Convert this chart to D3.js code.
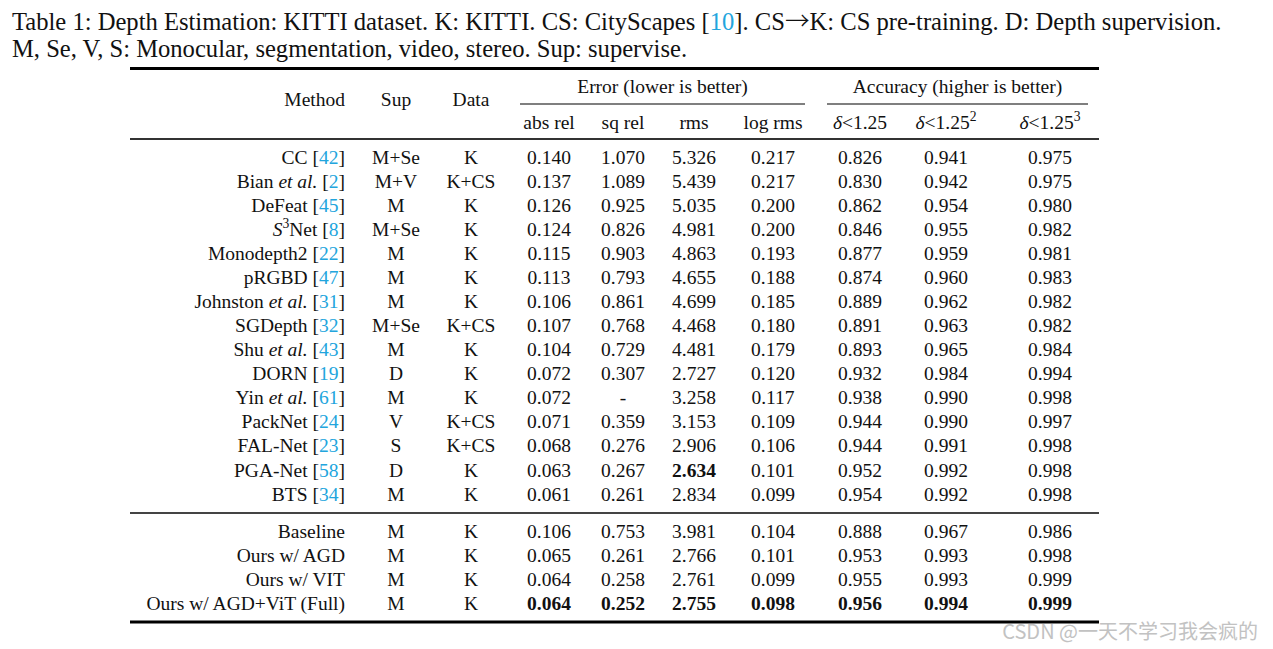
<!DOCTYPE html>
<html><head><meta charset="utf-8">
<script src="https://cdn.jsdelivr.net/npm/d3@7"></script>
<style>body{margin:0;background:#fff;} svg{display:block;}</style>
</head><body>
<script>
// ---------------- data ----------------
const methods = ["CC","Bian et al.","DeFeat","S3Net","Monodepth2","pRGBD","Johnston et al.","SGDepth","Shu et al.","DORN","Yin et al.","PackNet","FAL-Net","PGA-Net","BTS",
                 "Baseline","Ours w/ AGD","Ours w/ VIT","Ours w/ AGD+ViT (Full)"];
const refs    = [42,2,45,8,22,47,31,32,43,19,61,24,23,58,34,null,null,null,null];
const sup     = ["M+Se","M+V","M","M+Se","M","M","M","M+Se","M","D","M","V","S","D","M","M","M","M","M"];
const dataSet = ["K","K+CS","K","K","K","K","K","K+CS","K","K","K","K+CS","K+CS","K","K","K","K","K","K"];
const absRel  = [0.140,0.137,0.126,0.124,0.115,0.113,0.106,0.107,0.104,0.072,0.072,0.071,0.068,0.063,0.061,0.106,0.065,0.064,0.064];
const sqRel   = [1.070,1.089,0.925,0.826,0.903,0.793,0.861,0.768,0.729,0.307,null,0.359,0.276,0.267,0.261,0.753,0.261,0.258,0.252];
const rms     = [5.326,5.439,5.035,4.981,4.863,4.655,4.699,4.468,4.481,2.727,3.258,3.153,2.906,2.634,2.834,3.981,2.766,2.761,2.755];
const logRms  = [0.217,0.217,0.200,0.200,0.193,0.188,0.185,0.180,0.179,0.120,0.117,0.109,0.106,0.101,0.099,0.104,0.101,0.099,0.098];
const d1      = [0.826,0.830,0.862,0.846,0.877,0.874,0.889,0.891,0.893,0.932,0.938,0.944,0.944,0.952,0.954,0.888,0.953,0.955,0.956];
const d2      = [0.941,0.942,0.954,0.955,0.959,0.960,0.962,0.963,0.965,0.984,0.990,0.990,0.991,0.992,0.992,0.967,0.993,0.993,0.994];
const d3v     = [0.975,0.975,0.980,0.982,0.981,0.983,0.982,0.982,0.984,0.994,0.998,0.997,0.998,0.998,0.998,0.986,0.998,0.999,0.999];
const groupSize = [15, 4];
const boldCells = [["PGA-Net","rms"]];
const boldRow = "Ours w/ AGD+ViT (Full)";

const metricKeys = ["absRel","sqRel","rms","logRms","d1","d2","d3"];
const metricLabels = ["abs rel","sq rel","rms","log rms","δ<1.25","δ<1.25^2","δ<1.25^3"];
const groupHeaders = ["Error (lower is better)","Accuracy (higher is better)"];
const captionLine1 = ["Table 1: Depth Estimation: KITTI dataset. K: KITTI. CS: CityScapes [", "10", "]. CS", "→", "K: CS pre-training. D: Depth supervision."];
const captionLine2 = "M, Se, V, S: Monocular, segmentation, video, stereo. Sup: supervise.";
const watermark = "CSDN @一天不学习我会疯的";

// ---------------- layout ----------------
const W = 1273, H = 649;
const serif = "'Liberation Serif','Times New Roman',serif";
const fs = 19.5;
const cite = "#22a5dd";
const colKeys = ["method","sup","data", ...metricKeys];
const colX = d3.scaleOrdinal(colKeys, [345,396,471,549,623,694,773,860,946,1050]);
const tableLeft = 130, tableRight = 1099;

const metricsArr = {absRel, sqRel, rms, logRms, d1, d2, d3: d3v};
const rows = methods.map((m,i)=>({
  method:m, ref:refs[i], sup:sup[i], data:dataSet[i],
  group: i < groupSize[0] ? 0 : 1, idx: i < groupSize[0] ? i : i-groupSize[0],
  ...Object.fromEntries(metricKeys.map(k=>[k, metricsArr[k][i]]))
}));
const yGroup = [
  d3.scaleLinear().domain([0, groupSize[0]-1]).range([157, 494]),
  d3.scaleLinear().domain([0, groupSize[1]-1]).range([531, 603])
];
const rowY = r => yGroup[r.group](r.idx);
const fmt = d3.format(".3f");

const svg = d3.select("body").append("svg").attr("width",W).attr("height",H)
  .style("font-family", serif);
svg.append("rect").attr("width",W).attr("height",H).attr("fill","#fff");

// caption
const cap1 = svg.append("text").attr("x",12).attr("y",30).attr("fill","#111").attr("font-size",24);
captionLine1.forEach((s,i)=>{
  const ts = cap1.append("tspan").text(s).attr("fill", i===1?cite:"#111");
  if (s === "→") ts.attr("font-family","'Noto Sans CJK SC',sans-serif").attr("font-weight",300);
});
const cap2 = svg.append("text").attr("x",12).attr("y",57).attr("fill","#111").attr("font-size",24).text(captionLine2);
// fit caption width to reference
const target = 1210;
const w1 = cap1.node().getComputedTextLength();
const capFs = 24 * target / w1;
cap1.attr("font-size", capFs); cap2.attr("font-size", capFs);

// rules
const rule = (y, x1, x2, sw, col) => svg.append("line").attr("x1",x1).attr("x2",x2)
  .attr("y1",y).attr("y2",y).attr("stroke",col).attr("stroke-width",sw);
rule(68.5, tableLeft, tableRight, 3, "#000");
rule(139, tableLeft, tableRight, 1.8, "#333");
rule(104, 520, 805, 1.3, "#555");
rule(104, 827, 1088, 1.3, "#555");
rule(513, tableLeft, tableRight, 1.8, "#444");
rule(622, tableLeft, tableRight, 3, "#000");

// header
const hdr = (x, y, t, anchor) => svg.append("text").attr("x",x).attr("y",y)
  .attr("text-anchor",anchor).attr("font-size",fs).attr("fill","#111").text(t);
hdr(colX("method"), 105.5, "Method", "end");
hdr(colX("sup"), 105.5, "Sup", "middle");
hdr(colX("data"), 105.5, "Data", "middle");
hdr(662.5, 93, groupHeaders[0], "middle");
hdr(957.5, 93, groupHeaders[1], "middle");
metricKeys.forEach((k,i)=>{
  const lab = metricLabels[i];
  const t = svg.append("text").attr("x",colX(k)).attr("y",128.5).attr("text-anchor","middle")
    .attr("font-size",fs).attr("fill","#111");
  if (lab.startsWith("δ")) {
    const [base, sp] = lab.split("^");
    t.append("tspan").attr("font-style","italic").text("δ");
    t.append("tspan").text(base.slice(1));
    if (sp) t.append("tspan").attr("font-size",fs*0.7).attr("dy",-8).text(sp);
  } else t.text(lab);
});

// body
const body = svg.append("g");
const rowG = body.selectAll("g.row").data(rows).join("g").attr("class","row");

// method cell
rowG.each(function(r){
  const t = d3.select(this).append("text").attr("x",colX("method")).attr("y",rowY(r)+6.6)
    .attr("text-anchor","end").attr("font-size",fs).attr("fill","#111");
  if (r.method === "S3Net") {
    t.append("tspan").attr("font-style","italic").text("S");
    t.append("tspan").attr("font-size",fs*0.7).attr("dy",-8).text("3");
    t.append("tspan").attr("dy",8).text("Net");
  } else if (r.method.includes("et al.")) {
    const nm = r.method.replace(" et al.","");
    t.append("tspan").text(nm + " ");
    t.append("tspan").attr("font-style","italic").text("et al.");
  } else t.append("tspan").text(r.method);
  if (r.ref !== null) {
    t.append("tspan").text(" [");
    t.append("tspan").attr("fill",cite).text(r.ref);
    t.append("tspan").text("]");
  }
});
["sup","data"].forEach(k=>{
  rowG.append("text").attr("x",colX(k)).attr("y",r=>rowY(r)+6.6).attr("text-anchor","middle")
    .attr("font-size",fs).attr("fill","#111").text(r=>r[k]);
});
metricKeys.forEach(k=>{
  rowG.append("text").attr("x",colX(k)).attr("y",r=>rowY(r)+6.6).attr("text-anchor","middle")
    .attr("font-size",fs).attr("fill","#111")
    .attr("font-weight", r => (r.method===boldRow || boldCells.some(([m,c])=>m===r.method&&c===k)) ? "bold" : "normal")
    .text(r => r[k]===null ? "-" : fmt(r[k]));
});

// watermark
svg.append("text").attr("x",1258).attr("y",639).attr("text-anchor","end")
  .attr("font-family","'Noto Sans CJK SC','Noto Sans',sans-serif").attr("font-size",20)
  .attr("fill","#c2c2c2").text(watermark);
</script>
</body></html>
